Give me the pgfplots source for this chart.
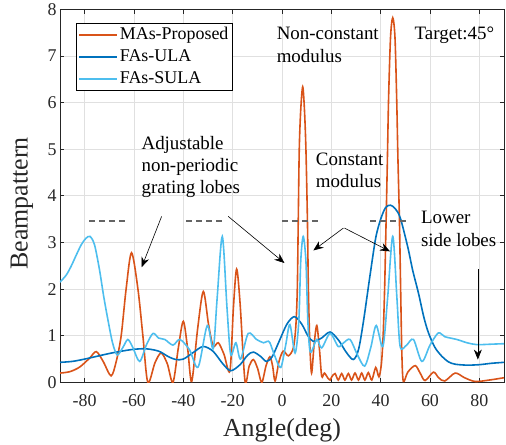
\documentclass[border=0pt]{standalone}
\usepackage{fontspec}
\setmainfont{Liberation Serif}
\usepackage{pgfplots}
\pgfplotsset{compat=1.18}
\usetikzlibrary{arrows.meta}
\definecolor{mlorange}{RGB}{217,83,25}
\definecolor{mlblue}{RGB}{0,114,189}
\definecolor{mlcyan}{RGB}{77,190,238}
\definecolor{axgray}{RGB}{38,38,38}
\definecolor{gridgray}{RGB}{224,224,224}
\definecolor{dashgray}{RGB}{100,100,100}

\begin{document}
\begin{tikzpicture}
\begin{axis}[
  scale only axis, width=444bp, height=373bp,
  xmin=-90, xmax=90, ymin=0, ymax=8,
  xtick={-80,-60,...,80}, ytick={0,1,...,8},
  tick align=inside, tick pos=both,
  major tick length=4.5bp,
  grid=major, grid style={gridgray, line width=0.8bp},
  axis line style={axgray, line width=0.8bp},
  every tick/.style={axgray, line width=0.8bp},
  /pgf/number format/assume math mode=true,
  tick label style={font=\fontsize{18}{20}\selectfont, text=axgray},
  xticklabel style={anchor=base, yshift=-24bp},
  xlabel={Angle(deg)}, ylabel={Beampattern},
  label style={font=\fontsize{26}{28}\selectfont, text=axgray},
  xlabel style={at={(axis description cs:0.5,-0.1456)}, anchor=base},
  ylabel style={at={(axis description cs:-0.0856,0.48)}, anchor=center},
  legend style={at={(0.036,0.9635)}, anchor=north west, draw=black,
    line width=0.6bp, fill=white, font=\fontsize{18}{20}\selectfont,
    inner xsep=2bp, inner ysep=0.5bp, row sep=0bp,
    nodes={inner xsep=2bp, inner ysep=2.5bp, text height=13bp, text depth=4bp},
    cells={anchor=west}},
  legend image code/.code={\draw[#1] (0bp,0bp) -- (38bp,0bp);},
  every axis plot/.append style={line width=1.6bp},
]
% MAs-Proposed
\addplot[mlorange, smooth] coordinates {
  (-90,0.20) (-86,0.23) (-82,0.33) (-78,0.52) (-75.3,0.66) (-72.5,0.45)
  (-69.3,0.14) (-67.2,0.45) (-65.2,1.0) (-63.2,2.0) (-61,2.78) (-58.4,2.0)
  (-56.4,1.0) (-54.4,0.0) (-51.5,0.42) (-49,0.63) (-46.5,0.4) (-44.2,0.0)
  (-42,0.75) (-40,1.31) (-38.2,0.7) (-36.6,0.02) (-34.2,1.15) (-31.9,1.95)
  (-29.8,1.25) (-27.9,0.78) (-25.8,0.85) (-23.5,0.6) (-21.1,0.25) (-19.7,1.6)
  (-18.4,2.43) (-17,1.7) (-15,0.03) (-13.3,0.35) (-11.6,0.49) (-9.9,0.3)
  (-8.2,0.0) (-6.5,0.35) (-4.9,0.55) (-3.8,0.35) (-2.8,0.03) (-1.2,0.45)
  (0.5,0.67) (2.6,0.57) (4.6,0.74) (5.6,1.2) (6.2,2.0) (6.6,3.5) (7.0,5.0)
  (7.6,5.85) (8.4,6.34) (9.1,5.85) (9.7,5.0) (10.3,3.5) (10.7,2.0) (11.3,0.8)
  (12,0.2) (13,0.8) (14.1,1.22) (15.2,0.7) (16.1,0.13) (17.2,0.2) (18.5,0.1)
  (19.5,0.05) (20.2,0.12) (21.5,0.19) (22.8,0.05) (24.2,0.19) (25.5,0.05)
  (26.9,0.19) (28.2,0.05) (29.6,0.2) (31,0.05) (32.3,0.2) (33.6,0.05)
  (35,0.21) (36.4,0.05) (38,0.32) (39.3,0.12) (40.3,0.4) (41,1.0) (41.6,2.0)
  (42.1,3.2) (42.7,4.7) (43.2,6.07) (44,7.4) (44.9,7.82) (45.8,7.4)
  (46.5,6.07) (47.0,4.8) (47.6,3.5) (48.1,2.0) (48.6,0.6) (49.2,0.02)
  (51,0.22) (54,0.36) (56,0.2) (58,0.04) (61.4,0.22) (63.5,0.1) (66,0.03)
  (70.2,0.2) (74,0.1) (78.3,0.02) (84,0.05) (90,0.1)
};
\addlegendentry{MAs-Proposed}
% FAs-ULA
\addplot[mlblue, smooth] coordinates {
  (-90,0.43) (-85,0.45) (-80,0.5) (-75,0.56) (-70,0.62) (-65,0.67)
  (-60,0.71) (-55,0.72) (-50,0.67) (-46,0.55) (-43,0.49) (-40,0.5)
  (-36,0.64) (-32,0.77) (-28,0.67) (-24,0.4) (-20.8,0.25) (-17,0.38)
  (-14,0.58) (-11.6,0.65) (-8.5,0.55) (-6.3,0.45) (-4,0.55) (-1,0.9)
  (2,1.25) (5,1.41) (8,1.25) (10.5,1.0) (12.7,0.88) (16,0.95) (19.5,1.08)
  (23,0.9) (26,0.65) (28.9,0.49) (31,0.7) (33,1.3) (35.7,2.3) (38,3.1)
  (40,3.5) (42,3.75) (44,3.8) (46,3.72) (48,3.52) (51,2.9) (53,2.4)
  (55.3,1.92) (57.5,1.4) (59.4,1.06) (62,0.75) (64.8,0.56) (67.5,0.44)
  (70.2,0.39) (75,0.37) (80,0.38) (85,0.41) (90,0.43)
};
\addlegendentry{FAs-ULA}
% FAs-SULA
\addplot[mlcyan, smooth] coordinates {
  (-90,2.15) (-87.5,2.3) (-85.5,2.49) (-83.5,2.72) (-81.4,2.95) (-79.5,3.09)
  (-77.8,3.13) (-76,2.95) (-74,2.42) (-72.3,1.85) (-70.6,1.35) (-68.7,0.85)
  (-66.8,0.59) (-64.5,0.75) (-62.5,0.92) (-60.5,0.75) (-57.7,0.45) (-55,0.8)
  (-52.3,1.05) (-50,0.95) (-47.5,0.92) (-44.2,0.8) (-41.4,0.92) (-37.5,0.7)
  (-34,0.33) (-30.3,1.22) (-27.9,0.72) (-26.3,1.8) (-24.2,3.13) (-22.3,1.6)
  (-20.8,0.6) (-18.7,0.85) (-16.8,0.5) (-13.7,1.05) (-10.3,0.92) (-7.5,0.85)
  (-6,0.88) (-4.9,0.85) (-2.8,0.55) (-0.5,0.32) (1.5,0.8) (3.2,1.24)
  (5.3,0.63) (6.8,1.3) (7.6,2.6) (8.6,3.13) (9.7,2.6) (10.5,1.3) (11.5,0.65)
  (14.1,0.92) (16.1,0.74) (19.5,1.05) (22.8,0.77) (25,0.85) (27.6,0.92)
  (30.5,0.6) (33.5,0.35) (36,0.75) (38.2,1.22) (40.9,0.77) (42.8,1.8)
  (44.9,3.13) (46.6,1.8) (47.9,0.77) (50.5,0.8) (53.3,0.92) (56.7,0.45)
  (60,0.8) (63.4,1.06) (66,0.98) (70.9,0.92) (75,0.85) (79,0.81) (85,0.82)
  (90,0.83)
};
\addlegendentry{FAs-SULA}

% dashed reference marks
\draw[dashgray, line width=1.2bp, dash pattern=on 6bp off 4bp] (axis cs:-78.2,3.46) -- (axis cs:-62.6,3.46);
\draw[dashgray, line width=1.2bp, dash pattern=on 6bp off 4bp] (axis cs:-38.9,3.46) -- (axis cs:-23.5,3.46);
\draw[dashgray, line width=1.2bp, dash pattern=on 6bp off 4bp] (axis cs:-0.1,3.46) -- (axis cs:15.4,3.46);
\draw[dashgray, line width=1.2bp, dash pattern=on 6bp off 4bp] (axis cs:35.7,3.46) -- (axis cs:51.2,3.46);

% arrows
\draw[-{Stealth[length=10bp,width=8bp]}, line width=0.6bp] (axis cs:-48.8,3.56) -- (axis cs:-56.9,2.47);
\draw[-{Stealth[length=10bp,width=8bp]}, line width=0.6bp] (axis cs:-21.8,3.56) -- (axis cs:1,2.56);
\draw[-{Stealth[length=10bp,width=8bp]}, line width=0.6bp] (axis cs:24.9,3.31) -- (axis cs:12.7,2.83);
\draw[-{Stealth[length=10bp,width=8bp]}, line width=0.6bp] (axis cs:25.3,3.31) -- (axis cs:43.8,2.81);
\draw[-{Stealth[length=10bp,width=8bp]}, line width=0.6bp] (axis cs:79.4,2.43) -- (axis cs:79.4,0.49);

% annotations
\begin{scope}[every node/.style={anchor=base west, inner sep=0pt, font=\fontsize{19}{21}\selectfont}]
\node at (axis cs:-57,4.99) {Adjustable};
\node at (axis cs:-57,4.53) {non-periodic};
\node at (axis cs:-57,4.06) {grating lobes};
\node at (axis cs:-2.2,7.35) {Non-constant};
\node at (axis cs:-2.2,6.87) {modulus};
\node at (axis cs:53.7,7.35) {Target:45°};
\node at (axis cs:13.7,4.66) {Constant};
\node at (axis cs:13.7,4.18) {modulus};
\node at (axis cs:56.3,3.41) {Lower};
\node at (axis cs:56.3,2.92) {side lobes};
\end{scope}
\end{axis}
\pgfresetboundingbox
\path ([shift={(-60bp,-62.3bp)}]current axis.south west) rectangle ([shift={(2bp,9.4bp)}]current axis.north east);
\end{tikzpicture}
\end{document}
